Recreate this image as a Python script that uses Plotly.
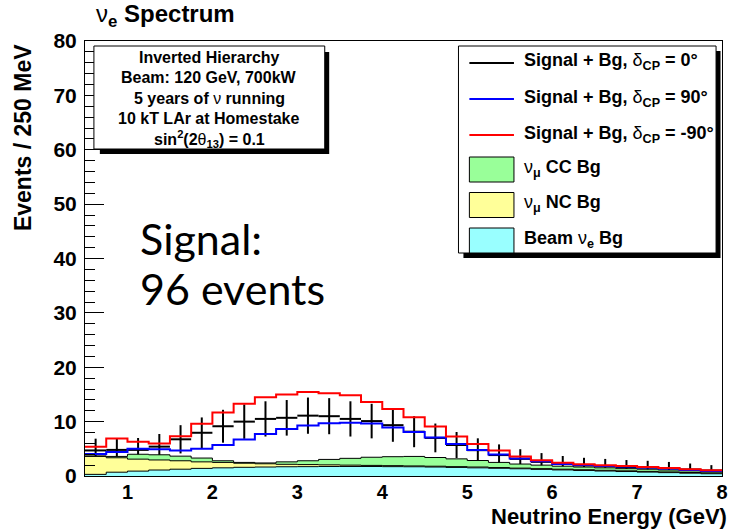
import numpy as np
import plotly.graph_objects as go

# 250 MeV energy bins between 0.5 and 8 GeV
E_MIN, E_MAX, BIN_W = 0.5, 8.0, 0.25

# Signal + background, delta_CP = 0 (events per bin)
sig_bg_dcp0 = [4.7, 4.8, 4.8, 5.4, 6.75, 7.95, 9.15, 10.0, 10.5, 10.7,
               11.1, 11.0, 10.5, 10.1, 9.35, 8.15, 7.0, 5.7, 4.75, 3.85,
               3.15, 2.6, 2.2, 1.95, 1.8, 1.65, 1.55, 1.4, 1.2, 1.0]
# Signal + background, delta_CP = +90 deg
sig_bg_dcp90 = [4.06, 4.4, 5.0, 4.9, 4.7, 5.0, 5.7, 6.7, 7.74, 8.66,
                9.27, 9.7, 9.8, 9.64, 8.9, 8.1, 7.07, 5.9, 4.8, 3.94,
                3.2, 2.72, 2.2, 2.04, 1.86, 1.73, 1.55, 1.37, 1.12, 0.94]
# Signal + background, delta_CP = -90 deg
sig_bg_dcpm90 = [5.4, 6.9, 6.3, 6.0, 7.3, 9.6, 11.7, 13.3, 14.5, 15.0,
                 15.45, 15.2, 14.85, 13.6, 12.3, 10.8, 9.1, 7.25, 5.9, 4.67,
                 3.57, 2.9, 2.45, 2.17, 1.98, 1.86, 1.67, 1.49, 1.25, 1.07]
# Background components
beam_nue_bg = [0.3, 0.7, 0.9, 1.1, 1.25, 1.4, 1.5, 1.6, 1.65, 1.7,
               1.72, 1.75, 1.75, 1.75, 1.72, 1.7, 1.65, 1.58, 1.5, 1.42,
               1.33, 1.22, 1.12, 1.02, 0.92, 0.82, 0.72, 0.62, 0.52, 0.42]
numu_nc_bg = [3.3, 2.65, 2.2, 1.85, 1.55, 1.2, 1.0, 0.75, 0.6, 0.45,
              0.38, 0.3, 0.25, 0.2, 0.18, 0.15, 0.15, 0.14, 0.15, 0.13,
              0.12, 0.13, 0.13, 0.13, 0.13, 0.13, 0.13, 0.13, 0.13, 0.13]
numu_cc_bg = [0.1, 0.25, 0.9, 0.95, 0.85, 0.7, 0.3, 0.15, 0.15, 0.45,
              0.7, 1.0, 1.25, 1.5, 1.65, 1.75, 1.6, 1.43, 1.2, 0.95,
              0.75, 0.65, 0.55, 0.5, 0.45, 0.4, 0.4, 0.35, 0.3, 0.2]

x_tick_vals = [1, 2, 3, 4, 5, 6, 7, 8]
y_tick_vals = [0, 10, 20, 30, 40, 50, 60, 70, 80]

info_lines = [
    "<b>Inverted Hierarchy</b>",
    "<b>Beam: 120 GeV, 700kW</b>",
    "<b>5 years of </b>ν<b> running</b>",
    "<b>10 kT LAr at Homestake</b>",
    "<b>sin</b><sup><b>2</b></sup><b>(2</b>θ<sub><b>13</b></sub><b>) = 0.1</b>",
]

FONT = "Liberation Sans"
W_FIG, H_FIG = 732, 530
L, T, R, B = 85, 41, 4, 54
PW, PH = W_FIG - L - R, H_FIG - T - B

edges = np.linspace(E_MIN, E_MAX, int(round((E_MAX - E_MIN) / BIN_W)) + 1)
centers = edges[:-1] + BIN_W / 2


def step_y(vals):
    v = list(vals)
    return v + [v[-1]]


def px(x):
    return (x - L) / PW


def py(y):
    return (T + PH - y) / PH


dcp0 = np.array(sig_bg_dcp0)
beam = np.array(beam_nue_bg)
nc = np.array(numu_nc_bg)
cc = np.array(numu_cc_bg)
stack_beam = beam
stack_nc = beam + nc
stack_all = beam + nc + cc
n_signal = int(round((dcp0 - stack_all).sum()))

fig = go.Figure()

# delta_CP = 0 with statistical errors (crosses)
fig.add_trace(go.Scatter(
    x=centers, y=dcp0, mode="markers",
    marker=dict(size=1, color="black", opacity=0),
    error_y=dict(type="data", array=np.sqrt(dcp0), color="black",
                 thickness=2, width=0),
    error_x=dict(type="constant", value=BIN_W / 2, color="black",
                 thickness=2, width=0),
    hoverinfo="skip",
))

# stacked backgrounds
for vals, col in [(stack_all, "#99ff99"), (stack_nc, "#ffff99"),
                  (stack_beam, "#99ffff")]:
    fig.add_trace(go.Scatter(
        x=edges, y=step_y(vals), mode="lines", line_shape="hv",
        line=dict(color="black", width=1), fill="tozeroy",
        fillcolor=col, hoverinfo="skip",
    ))

for vals, col in [(sig_bg_dcp90, "#0000ff"), (sig_bg_dcpm90, "#ff0000")]:
    fig.add_trace(go.Scatter(
        x=edges, y=step_y(vals), mode="lines", line_shape="hv",
        line=dict(color=col, width=2), hoverinfo="skip",
    ))

shapes = []
annotations = []


def rect(x0, y0, x1, y1, fill, line_w=1):
    shapes.append(dict(type="rect", xref="paper", yref="paper",
                       x0=px(x0), x1=px(x1), y0=py(y1), y1=py(y0),
                       fillcolor=fill,
                       line=dict(color="black", width=line_w)))


def text(x, y, s, size, xanchor="left", family=FONT, angle=0, yanchor="middle"):
    annotations.append(dict(xref="paper", yref="paper", x=px(x), y=py(y),
                            text=s, showarrow=False, xanchor=xanchor,
                            yanchor=yanchor, textangle=angle,
                            font=dict(family=family, size=size, color="black")))


# info box with drop shadow
rect(100, 52, 331.5, 154, "black", 0)
rect(94, 46, 327, 149, "white")
for i, s in enumerate(info_lines):
    text(210.5, 57 + 20.5 * i, s, 16, xanchor="center")

# legend box with drop shadow
rect(467, 51, 726.5, 258, "black", 0)
rect(462, 46, 722, 253, "white")
leg_lines = [("black", "<b>Signal + Bg, </b>δ<sub><b>CP</b></sub><b> = 0°</b>"),
             ("#0000ff", "<b>Signal + Bg, </b>δ<sub><b>CP</b></sub><b> = 90°</b>"),
             ("#ff0000", "<b>Signal + Bg, </b>δ<sub><b>CP</b></sub><b> = -90°</b>")]
for i, (col, s) in enumerate(leg_lines):
    yy = 63 + 36 * i
    shapes.append(dict(type="line", xref="paper", yref="paper",
                       x0=px(473), x1=px(518), y0=py(yy), y1=py(yy),
                       line=dict(color=col, width=2)))
    text(526, yy - 1, s, 18)
leg_boxes = [("#99ff99", "ν<sub><b>μ</b></sub><b> CC Bg</b>"),
             ("#ffff99", "ν<sub><b>μ</b></sub><b> NC Bg</b>"),
             ("#99ffff", "<b>Beam </b>ν<sub><b>e</b></sub><b> Bg</b>")]
for i, (col, s) in enumerate(leg_boxes):
    y0 = 157 + 35.5 * i
    rect(473, y0, 518, y0 + 25, col)
    text(526, y0 + 11, s, 18)

# titles
text(94, 15, "ν<sub><b>e</b></sub><b> Spectrum</b>", 24)
text(22, T + 1, "<b>Events / 250 MeV</b>", 23, xanchor="center", angle=-90,
     yanchor="top")
text(735, 516, "<b>Neutrino Energy (GeV)</b>", 22, xanchor="right")

# signal count
text(138, 238, "Signal:", 43, family="Lato")
text(138, 288, f"{n_signal} events", 43, family="Lato")

fig.update_layout(
    width=W_FIG, height=H_FIG,
    margin=dict(l=L, r=R, t=T, b=B, pad=0),
    paper_bgcolor="white", plot_bgcolor="white",
    showlegend=False,
    shapes=shapes, annotations=annotations,
    xaxis=dict(range=[E_MIN, E_MAX], tickvals=x_tick_vals, ticks="",
               ticklen=0, showgrid=False, zeroline=False, showline=True,
               mirror=True, linecolor="black", linewidth=1,
               ticklabeloverflow="allow", ticklabelstandoff=-2,
               tickfont=dict(family=FONT, size=20, color="black", weight="bold")),
    yaxis=dict(range=[0, 80], tickvals=y_tick_vals, ticks="inside",
               ticklen=19, tickcolor="black", tickwidth=1,
               minor=dict(dtick=2, ticks="inside", ticklen=10,
                          tickcolor="black", tickwidth=1, showgrid=False),
               showgrid=False, zeroline=False, showline=True, mirror=True,
               linecolor="black", linewidth=1, ticklabelstandoff=3,
               tickfont=dict(family=FONT, size=21, color="black", weight="bold")),
)

fig.write_html("out.html")
